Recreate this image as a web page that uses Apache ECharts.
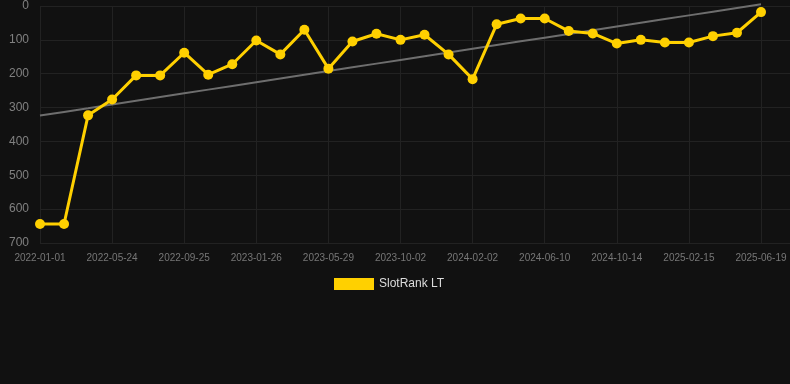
<!DOCTYPE html>
<html>
<head>
<meta charset="utf-8">
<script src="https://cdn.jsdelivr.net/npm/echarts@6/dist/echarts.min.js"></script>
<style>
html,body{margin:0;padding:0;background:#111111;}
#chart{width:790px;height:384px;}
</style>
</head>
<body>
<div id="chart"></div>
<script>
var categories = ['2022-01-01','2022-02-18','2022-04-07','2022-05-24','2022-07-04','2022-08-14','2022-09-25','2022-11-05','2022-12-16','2023-01-26','2023-03-08','2023-04-18','2023-05-29','2023-07-10','2023-08-21','2023-10-02','2023-11-12','2023-12-23','2024-02-02','2024-03-15','2024-04-28','2024-06-10','2024-07-22','2024-09-02','2024-10-14','2024-11-24','2025-01-05','2025-02-15','2025-03-28','2025-05-08','2025-06-19'];
var rankValues = [644,644,323,276,205,205,138,203,172,102,143,70,185,105,82,100,85,143,216,54,37,37,74,81,111,100,108,108,89,79,18];
var yTicks = [0,100,200,300,400,500,600,700];

// least-squares trend line of the series
var n = rankValues.length, sx = 0, sy = 0, sxy = 0, sxx = 0;
for (var i = 0; i < n; i++) { sx += i; sy += rankValues[i]; sxy += i * rankValues[i]; sxx += i * i; }
var slope = (n * sxy - sx * sy) / (n * sxx - sx * sx);
var icpt = (sy - slope * sx) / n;
var trend = rankValues.map(function (v, i) { return +(icpt + slope * i).toFixed(2); });

var chart = echarts.init(document.getElementById('chart'));
chart.setOption({
  backgroundColor: '#111111',
  animation: false,
  grid: [
    {left: 40, right: 29, top: 6, bottom: 141},
    {left: 40, right: 0, top: 6, bottom: 141}
  ],
  legend: {
    data: ['SlotRank LT'],
    left: 329,
    top: 273,
    itemWidth: 40,
    itemHeight: 12,
    icon: 'rect',
    textStyle: {color: '#dddddd', fontSize: 12, fontFamily: 'Liberation Sans, Arial, sans-serif'}
  },
  xAxis: [{
    type: 'category',
    gridIndex: 0,
    data: categories,
    boundaryGap: false,
    axisLine: {show: false},
    axisTick: {show: false},
    axisLabel: {interval: 2, color: '#777777', fontSize: 10, margin: 10, fontFamily: 'Liberation Sans, Arial, sans-serif'},
    splitLine: {show: true, interval: 2, lineStyle: {color: '#222222', width: 1}}
  }, {
    type: 'value',
    gridIndex: 1,
    show: false
  }],
  yAxis: [{
    type: 'value',
    gridIndex: 0,
    inverse: true,
    min: yTicks[0],
    max: yTicks[yTicks.length - 1],
    interval: 100,
    axisLine: {show: false},
    axisTick: {show: false},
    axisLabel: {color: '#808080', fontSize: 12, margin: 11, fontFamily: 'Liberation Sans, Arial, sans-serif'},
    splitLine: {show: false}
  }, {
    type: 'value',
    gridIndex: 1,
    inverse: true,
    min: yTicks[0],
    max: yTicks[yTicks.length - 1],
    interval: 100,
    axisLine: {show: false},
    axisTick: {show: false},
    axisLabel: {show: false},
    splitLine: {show: true, lineStyle: {color: '#222222', width: 1}}
  }],
  series: [{
    name: 'Trend',
    type: 'line',
    xAxisIndex: 0,
    yAxisIndex: 0,
    data: trend,
    showSymbol: false,
    symbol: 'none',
    clip: false,
    silent: true,
    lineStyle: {color: '#6e6e6e', width: 2},
    z: 2
  }, {
    name: 'SlotRank LT',
    type: 'line',
    xAxisIndex: 0,
    yAxisIndex: 0,
    data: rankValues,
    symbol: 'circle',
    symbolSize: 10,
    clip: false,
    itemStyle: {color: '#FFD000'},
    lineStyle: {color: '#FFD000', width: 3},
    z: 3
  }]
});
</script>
</body>
</html>
